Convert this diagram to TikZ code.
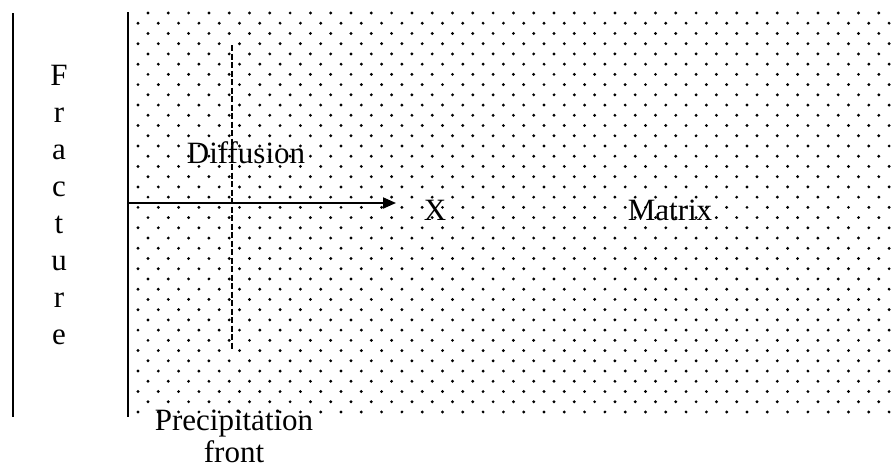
\documentclass[tikz,border=0pt]{standalone}
\usepackage{fontspec}
\setmainfont{Liberation Serif}
\usetikzlibrary{arrows.meta}
\tikzset{
  wall/.style={line width=2pt},
  front/.style={line width=2.2pt, dash pattern=on 6pt off 2.5pt},
  axis/.style={line width=2pt, -{Triangle[length=13pt, width=11pt]}},
  lbl/.style={font=\fontsize{31}{37}\selectfont, inner sep=0pt, anchor=base},
  grain/.style={fill=black},
}

\begin{document}
\begin{tikzpicture}[x=1pt, y=-1pt]
\useasboundingbox (0,0) rectangle (896,469);

% ── Matrix (punteado) ───────────────────────────────────────
\foreach \r in {0,...,39} {
  \pgfmathsetmacro{\yy}{13 + \r*10.23}
  \pgfmathsetmacro{\xo}{isodd(\r) ? 138 : 148}
  \foreach \c in {0,...,37} {
    \fill[grain] (\xo + \c*20.3, \yy) circle (1.6pt);
  }
}

% ── Bordes ──────────────────────────────────────────────────
\coordinate (ftop) at (13,13);
\coordinate (fbot) at (13,417);
\coordinate (mtop) at (128,12);
\coordinate (mbot) at (128,417);
\draw[wall] (ftop) -- (fbot);
\draw[wall] (mtop) -- (mbot);

% ── Frente y eje ────────────────────────────────────────────
\coordinate (ptop) at (232,45);
\coordinate (pbot) at (232,349);
\draw[front] (ptop) -- (pbot);

\coordinate (origin) at (128,203);
\coordinate (xend) at (396,203);
\draw[axis] (origin) -- (xend);

% ── Textos ──────────────────────────────────────────────────
\node[lbl, align=center, anchor=north] (frac) at (59,65)
  {F\\r\\a\\c\\t\\u\\r\\e};
\node[lbl] (diff) at (246,163) {Diffusion};
\node[lbl] (xlab) at (435,220) {X};
\node[lbl] (matrix) at (670,220) {Matrix};
\node[lbl] (prec) at (234,430) {Precipitation};
\node[lbl] (pfront) at (234,462) {front};

\end{tikzpicture}
\end{document}
